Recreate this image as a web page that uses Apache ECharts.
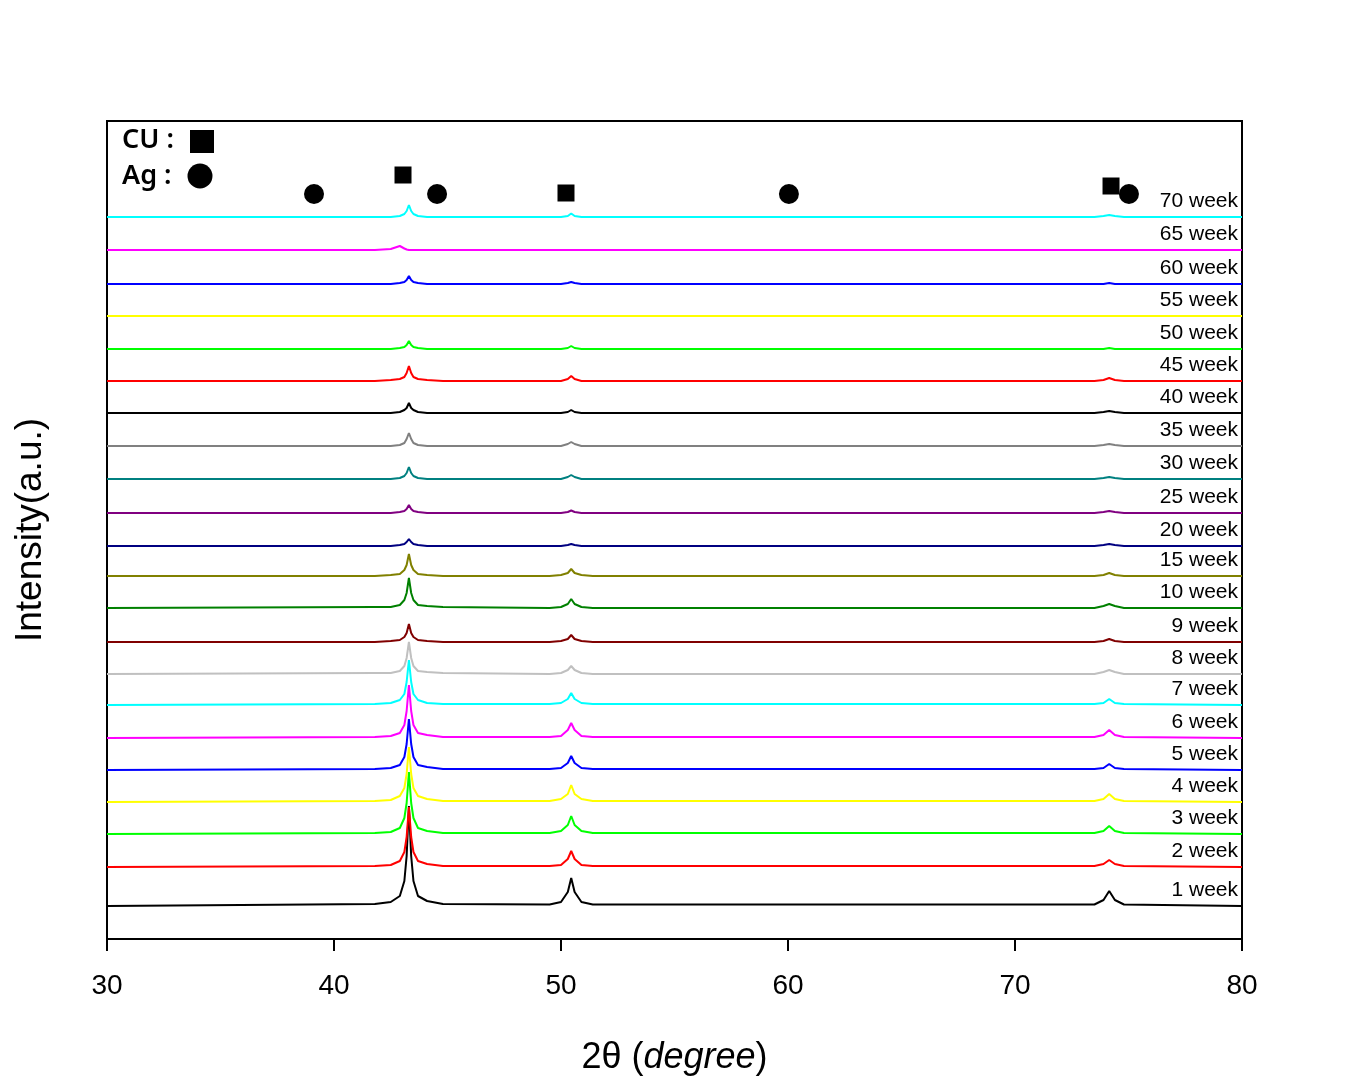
<!DOCTYPE html>
<html><head><meta charset="utf-8">
<script src="https://cdn.jsdelivr.net/npm/echarts@6/dist/echarts.min.js"></script>
<style>html,body{margin:0;padding:0;background:#fff}#c{width:1350px;height:1084px}</style>
</head><body><div id="c"></div>
<script>
// shared 2-theta sample points (degrees)
const twoTheta = [30, 41.8,42.5,42.9,43.1,43.2,43.3,43.4,43.5,43.7,44.1,44.8, 49.5,50.0,50.3,50.45,50.6,50.9,51.4, 73.5,73.9,74.15,74.4,74.8, 80];
const weekLabels = ['1 week','2 week','3 week','4 week','5 week','6 week','7 week','8 week','9 week','10 week','15 week','20 week','25 week','30 week','35 week','40 week','45 week','50 week','55 week','60 week','65 week','70 week'];
// vertical offsets of each pattern (a.u.)
const offsets = [33,72,105,137,169,201,234,265,297,331,363,393,426,460,493,526,558,590,623,655,689,722];
const colors = ['#000000','#FF0000','#00FF00','#FFFF00','#0000FF','#FF00FF','#00FFFF','#C0C0C0','#800000','#008000','#808000','#000080','#800080','#008080','#808080','#000000','#FF0000','#00FF00','#FFFF00','#0000FF','#FF00FF','#00FFFF'];
// intensities at twoTheta points (a.u.)
const w1  = [0, 2,4,10,25,50,100,50,25,10,5,2, 1.5,4,14,28,14,4,1.5, 1.5,6,15,6,1.5, 0];
const w2  = [0, 1,2,6,15,30,60,30,15,6,3,1, 1,2,8,16,8,2,1, 1,3,7,3,1, 0];
const w3  = [0, 1,2,6,16,31,62,31,16,6,3,1, 1,3,9,18,9,3,1, 1,3,8,3,1, 0];
const w4  = [0, 1,2,6,14,28,55,28,14,6,3,1, 1,3,8,17,8,3,1, 1,3,8,3,1, 0];
const w5  = [0, 1,2,5,13,26,51,26,13,5,3,1, 1,2,7,14,7,2,1, 1,2,6,2,1, 0];
const w6  = [0, 1,2,5,13,27,53,27,13,5,3,1, 1,2,8,15,8,2,1, 1,3,8,3,1, 0];
const w7  = [0, 1,2,5,11,23,45,23,11,5,2,1, 1,2,6,12,6,2,1, 1,2,6,2,1, 0];
const w8  = [0, 1,1,3,8,16,32,16,8,3,2,1, 0,1,4,8,4,1,0, 0,2,4,2,0, 0];
const w9  = [0, 0,1,2,5,9,18,9,5,2,1,0, 0,1,3,7,3,1,0, 0,1,3,1,0, 0];
const w10 = [0, 1,1,3,8,15,30,15,8,3,2,1, 0,1,4,9,4,1,0, 0,2,4,2,0, 0];
const w15 = [0, 0,1,2,6,11,22,11,6,2,1,0, 0,1,3,7,3,1,0, 0,1,3,1,0, 0];
const w20 = [0, 0,0,1,2,4,7,4,2,1,0,0, 0,0,1,2,1,0,0, 0,1,2,1,0, 0];
const w25 = [0, 0,0,1,2,4,8,4,2,1,0,0, 0,0,1,2.5,1,0,0, 0,1,2,1,0, 0];
const w30 = [0, 0,0,1,3,6,12,6,3,1,0,0, 0,0,2,4,2,0,0, 0,1,2,1,0, 0];
const w35 = [0, 0,0,1,3,7,13,7,3,1,0,0, 0,0,2,4,2,0,0, 0,1,2,1,0, 0];
const w40 = [0, 0,0,1,3,5,10,5,3,1,0,0, 0,0,1,3,1,0,0, 0,1,2,1,0, 0];
const w45 = [0, 0,1,2,4,8,15,8,4,2,1,0, 0,0,2,5,2,0,0, 0,1,3,1,0, 0];
const w50 = [0, 0,0,1,2,4,8,4,2,1,0,0, 0,0,1,3,1,0,0, 0,0,1,0,0, 0];
const w55 = [0, 0,0,0,0,0,0,0,0,0,0,0, 0,0,0,0,0,0,0, 0,0,0,0,0, 0];
const w60 = [0, 0,0,1,2,4,8,4,2,1,0,0, 0,0,1,2,1,0,0, 0,0,1,0,0, 0];
const w65 = [0, 0,1,4,1.5,0.5,0,0,0,0,0,0, 0,0,0,0,0,0,0, 0,0,0,0,0, 0];
const w70 = [0, 0,0,1,3,6,12,6,3,1,0,0, 0,0,1,3.5,1,0,0, 0,1,2,1,0, 0];
const patterns = [w1,w2,w3,w4,w5,w6,w7,w8,w9,w10,w15,w20,w25,w30,w35,w40,w45,w50,w55,w60,w65,w70];
// reference peak markers [2theta, height]
const cuMarks = [[43.04,764],[50.22,746],[74.23,753]];
const agMarks = [[39.12,745],[44.54,745],[60.04,745],[75.02,745]];

const series = patterns.map((p, i) => ({
  type: 'line', name: weekLabels[i], symbol: 'none', smooth: false,
  lineStyle: {color: colors[i], width: 2}, itemStyle: {color: colors[i]},
  data: twoTheta.map((x, j) => [x, offsets[i] + p[j]]),
  markPoint: {
    symbol: 'circle', symbolSize: 0, silent: true,
    data: [{coord: [80, offsets[i]], value: weekLabels[i]}],
    label: {show: true, formatter: weekLabels[i], position: 'left', distance: 4, offset: [0, -16],
      color: '#000', fontSize: 21, fontFamily: 'Arial'}
  }
}));
series.push({type: 'scatter', symbol: 'rect', symbolSize: 17, itemStyle: {color: '#000', opacity: 1}, data: cuMarks, z: 5});
series.push({type: 'scatter', symbol: 'circle', symbolSize: 20, itemStyle: {color: '#000', opacity: 1}, data: agMarks, z: 5});

const chart = echarts.init(document.getElementById('c'), null, {renderer: 'canvas'});
chart.setOption({
  animation: false,
  backgroundColor: '#fff',
  grid: {left: 107, right: 108, top: 121, bottom: 145, show: true, borderColor: '#000', borderWidth: 2, backgroundColor: 'transparent'},
  xAxis: {
    type: 'value', min: 30, max: 80, interval: 10,
    axisLine: {show: true, lineStyle: {color: '#000', width: 2}},
    axisTick: {show: true, inside: false, length: 12, lineStyle: {color: '#000', width: 2}},
    axisLabel: {color: '#000', fontSize: 28, fontFamily: 'Arial', margin: 33},
    splitLine: {show: false},
    name: '{a|2θ (}{b|degree}{a|)}', nameLocation: 'middle', nameGap: 101,
    nameTextStyle: {rich: {a: {fontSize: 36, fontFamily: 'Arial', color: '#000'}, b: {fontSize: 36, fontFamily: 'Arial', fontStyle: 'italic', color: '#000'}}}
  },
  yAxis: {
    type: 'value', min: 0, max: 818,
    axisLine: {show: true, lineStyle: {color: '#000', width: 2}},
    axisTick: {show: false}, axisLabel: {show: false}, splitLine: {show: false},
    name: 'Intensity(a.u.)', nameLocation: 'middle', nameGap: 58, nameRotate: 90,
    nameTextStyle: {fontSize: 37, fontFamily: 'Arial', color: '#000'}
  },
  graphic: [
    {type: 'text', left: 122, top: 127, style: {text: 'CU :', fontSize: 27, fontFamily: 'Noto Sans', fontWeight: 600, fill: '#000'}},
    {type: 'rect', shape: {x: 190, y: 130, width: 24, height: 23}, style: {fill: '#000'}},
    {type: 'text', left: 122, top: 163, style: {text: 'Ag :', fontSize: 27, fontFamily: 'Noto Sans', fontWeight: 600, fill: '#000'}},
    {type: 'circle', shape: {cx: 200, cy: 176, r: 12.5}, style: {fill: '#000'}}
  ],
  series: series
});
</script>
</body></html>
